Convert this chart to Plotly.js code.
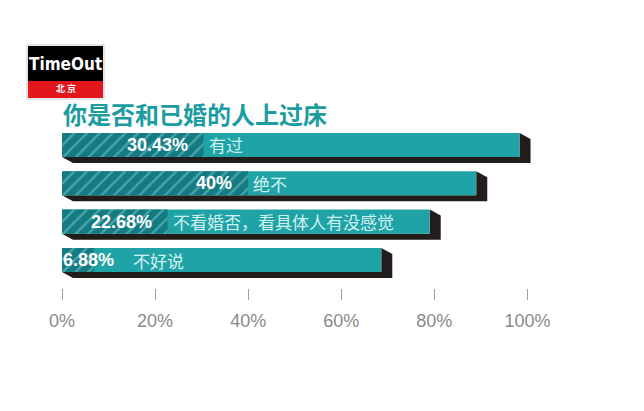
<!DOCTYPE html>
<html>
<head>
<meta charset="utf-8">
<script src="https://cdn.plot.ly/plotly-3.0.1.min.js"></script>
<style>
  html, body { margin: 0; padding: 0; background: #fff; }
  #chart { width: 644px; height: 411px; }
</style>
</head>
<body>
<div id="chart"></div>
<script>
"use strict";

// Data
const categories = ["有过", "绝不", "不看婚否，看具体人有没感觉", "不好说"];
const shares = [30.43, 40, 22.68, 6.88];
// the decorative bar lengths (front face), in axis %
const barLengths = [98.3, 89, 79, 68.6];
const tickValues = [0, 20, 40, 60, 80, 100];
const tickLabels = ["0%", "20%", "40%", "60%", "80%", "100%"];
const titleText = "你是否和已婚的人上过床";

const TEAL = "#1fa3a7";
const TEAL_DARK = "#157b83";
const STRIPE = "#4aa6ab";
const SHADOW = "#221c1a";

const W = 644, H = 411;
const M = { l: 62, r: 70, t: 120, b: 123 };
const PW = W - M.l - M.r, PH = H - M.t - M.b;
const px = (x) => (x - M.l) / PW;
const py = (y) => (H - M.b - y) / PH;

const X_RANGE = [0, 110];
const Y_RANGE = [3.73, -0.65];
const unitX = PW / (X_RANGE[1] - X_RANGE[0]);
const unitY = PH / (Y_RANGE[0] - Y_RANGE[1]);

const BAR_W = 0.627;
const DEPTH_X = 11 / unitX;
const DEPTH_Y = 6 / unitY;

const idx = categories.map((_, i) => i);

/* ── bars ───────────────────────────────────────────────────────────── */
const traces = [
  {
    type: "bar",
    orientation: "h",
    y: idx,
    x: barLengths,
    width: BAR_W,
    marker: { color: TEAL, line: { width: 0 } },
    hoverinfo: "skip",
  },
  {
    type: "bar",
    orientation: "h",
    y: idx,
    x: shares,
    width: BAR_W,
    marker: {
      color: TEAL_DARK,
      line: { width: 0 },
      pattern: {
        shape: "/",
        bgcolor: TEAL_DARK,
        fgcolor: STRIPE,
        size: 9,
        solidity: 0.25,
      },
    },
    hovertemplate: "%{x}%<extra></extra>",
  },
];

/* ── 3D shadow behind each bar ─────────────────────────────────────── */
const shapes = barLengths.map((L, i) => {
  const h = BAR_W / 2;
  const top = i - h, bot = i + h;
  const pts = [
    [0, bot],
    [L, bot],
    [L, top],
    [L + DEPTH_X, top + DEPTH_Y],
    [L + DEPTH_X, bot + DEPTH_Y],
    [DEPTH_X, bot + DEPTH_Y],
  ];
  return {
    type: "path",
    xref: "x",
    yref: "y",
    layer: "below",
    path: "M" + pts.map((p) => p[0] + "," + p[1]).join(" L") + " Z",
    fillcolor: SHADOW,
    line: { width: 0 },
  };
});

// Time Out logo
shapes.push(
  {
    type: "rect", xref: "paper", yref: "paper", layer: "above",
    x0: px(27), x1: px(104), y0: py(45), y1: py(99),
    fillcolor: "#ffffff", line: { color: "#c9c9c9", width: 1 },
  },
  {
    type: "rect", xref: "paper", yref: "paper", layer: "above",
    x0: px(28), x1: px(103), y0: py(46), y1: py(81),
    fillcolor: "#000000", line: { width: 0 },
  },
  {
    type: "rect", xref: "paper", yref: "paper", layer: "above",
    x0: px(28), x1: px(103), y0: py(81), y1: py(98),
    fillcolor: "#e3161b", line: { width: 0 },
  }
);

/* ── labels ────────────────────────────────────────────────────────── */
const PCT_FONT = { family: "Liberation Sans, Arial, sans-serif", size: 18, color: "#ffffff" };
const LBL_FONT = { family: "Noto Sans CJK SC, sans-serif", size: 17, color: "#d3f1f1" };

const annotations = [];
shares.forEach((v, i) => {
  if (v >= 15) {
    annotations.push({
      x: v, y: i, xref: "x", yref: "y",
      text: "<b>" + v + "%</b>",
      xanchor: "right", yanchor: "middle", xshift: -14,
      showarrow: false, font: PCT_FONT,
    });
    annotations.push({
      x: v, y: i, xref: "x", yref: "y",
      text: categories[i],
      xanchor: "left", yanchor: "middle", xshift: 3,
      showarrow: false, font: LBL_FONT,
    });
  } else {
    // too narrow for the value: put value and label together from the start
    annotations.push({
      x: 0, y: i, xref: "x", yref: "y",
      text: "<b>" + v + "%</b>",
      xanchor: "left", yanchor: "middle", xshift: -1,
      showarrow: false, font: PCT_FONT,
    });
    annotations.push({
      x: 0, y: i, xref: "x", yref: "y",
      text: categories[i],
      xanchor: "left", yanchor: "middle", xshift: 69,
      showarrow: false, font: LBL_FONT,
    });
  }
});

annotations.push(
  {
    x: px(61), y: py(114), xref: "paper", yref: "paper",
    text: "<b>" + titleText + "</b>",
    xanchor: "left", yanchor: "middle", showarrow: false,
    font: { family: "Noto Sans CJK SC, sans-serif", size: 24, color: "#1b9ca1" },
  },
  {
    x: px(65.5), y: py(63.5), xref: "paper", yref: "paper",
    text: "<b>TimeOut</b>",
    xanchor: "center", yanchor: "middle", showarrow: false,
    font: { family: "DejaVu Sans Condensed, sans-serif", size: 17, color: "#ffffff" },
  },
  {
    x: px(65.5), y: py(88.5), xref: "paper", yref: "paper",
    text: "<b>北 京</b>",
    xanchor: "center", yanchor: "middle", showarrow: false,
    font: { family: "Noto Sans CJK SC, sans-serif", size: 9, color: "#ffffff" },
  }
);

const layout = {
  width: W,
  height: H,
  margin: M,
  paper_bgcolor: "#ffffff",
  plot_bgcolor: "#ffffff",
  barmode: "overlay",
  showlegend: false,
  xaxis: {
    range: X_RANGE,
    tickvals: tickValues,
    ticktext: tickLabels,
    ticks: "outside",
    ticklen: 11,
    tickwidth: 1,
    tickcolor: "#a0a0a0",
    ticklabelstandoff: 5,
    showgrid: false,
    zeroline: false,
    showline: false,
    tickfont: { family: "Liberation Sans, Arial, sans-serif", size: 18, color: "#8a8a8a" },
    fixedrange: true,
  },
  yaxis: {
    range: Y_RANGE,
    showticklabels: false,
    showgrid: false,
    zeroline: false,
    showline: false,
    ticks: "",
    fixedrange: true,
  },
  shapes,
  annotations,
};

Plotly.newPlot("chart", traces, layout, { displayModeBar: false });
</script>
</body>
</html>
